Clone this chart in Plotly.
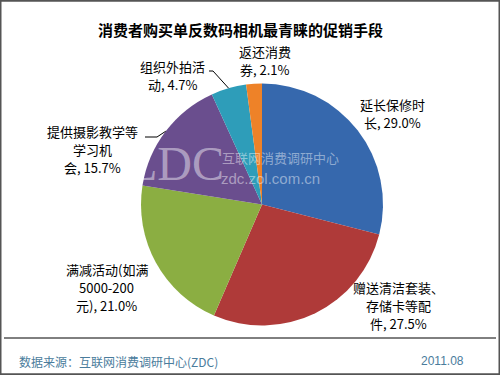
import math
import plotly.graph_objects as go

# ---- data ----
categories = ["延长保修时长", "赠送清洁套装、存储卡等配件", "满减活动(如满5000-200元)",
              "提供摄影教学等学习机会", "组织外拍活动", "返还消费券"]
values = [29.0, 27.5, 21.0, 15.7, 4.7, 2.1]
label_lines = [["延长保修时", "长, 29.0%"],
               ["赠送清洁套装、", "存储卡等配", "件, 27.5%"],
               ["满减活动(如满", "5000-200", "元), 21.0%"],
               ["提供摄影教学等", "学习机", "会, 15.7%"],
               ["组织外拍活", "动, 4.7%"],
               ["返还消费", "券, 2.1%"]]
title_text = "消费者购买单反数码相机最青睐的促销手段"
source_text = "数据来源：互联网消费调研中心(ZDC)"
date_text = "2011.08"

# ---- style ----
W, H = 500, 375
colors = ["#3668AD", "#AF3A39", "#8BAE42", "#6A4E8E", "#2E9DB9", "#EE8228"]
CX, CY, R = 262, 204.5, 121          # pie centre / radius in pixels
label_offsets = [(35, -17), (83, -8), (-49, 25), (-73, 18), (-56, -13), (11, -23)]
LINE_H = 18
leader = {3: [(157, 137), (145, 137)], 4: [(213, 71), (209, 71)]}
CJK = "Noto Sans CJK SC"


def px(x, y):
    return x / W, 1 - y / H


fig = go.Figure()
fig.add_trace(go.Pie(
    labels=categories, values=values, sort=False, direction="clockwise", rotation=0,
    marker=dict(colors=colors, line=dict(width=0)), textinfo="none", hoverinfo="skip",
    showlegend=False,
    domain=dict(x=[(CX - R) / W, (CX + R) / W], y=[1 - (CY + R) / H, 1 - (CY - R) / H]),
))

annotations = []
shapes = []


def add_text(x, y, text, font, xanchor="center"):
    ax, ay = px(x, y)
    annotations.append(dict(x=ax, y=ay, xref="paper", yref="paper", text=text,
                            showarrow=False, xanchor=xanchor, yanchor="middle", font=font))


total = sum(values)
cum = 0
for i, v in enumerate(values):
    mid = (cum + v / 2) / total * 2 * math.pi
    cum += v
    ex, ey = CX + R * math.sin(mid), CY - R * math.cos(mid)
    dx, dy = label_offsets[i]
    lines = label_lines[i]
    n = len(lines)
    for k, line in enumerate(lines):
        add_text(ex + dx, ey + dy + (k - (n - 1) / 2) * LINE_H, line,
                 dict(family=CJK, size=13, color="#000000"))
    if i in leader:
        pts = [(ex, ey)] + leader[i]
        path = "M " + " L ".join(f"{px(a, b)[0]},{px(a, b)[1]}" for a, b in pts)
        shapes.append(dict(type="path", xref="paper", yref="paper", path=path,
                           line=dict(color="#000000", width=1)))

# title
add_text(240, 29, "<b>" + title_text + "</b>", dict(family=CJK, size=15, color="#000000"))
# footer
add_text(17, 361, source_text, dict(family=CJK, size=12, color="#4A7C9C"), "left")
add_text(466, 361, date_text, dict(family="Liberation Sans", size=12, color="#4A7C9C"), "right")
# watermark
wm = "rgba(255,255,255,0.45)"
add_text(176, 163, "ZDC", dict(family="Liberation Serif", size=48, color=wm))
add_text(220, 157, "互联网消费调研中心", dict(family=CJK, size=13, color=wm), "left")
add_text(219, 178, "zdc.zol.com.cn", dict(family="Liberation Sans", size=15, color=wm), "left")

# frame and separator
shapes.append(dict(type="rect", xref="paper", yref="paper", x0=0.001, y0=0.002, x1=0.999, y1=0.998,
                   line=dict(color="#555555", width=2)))
sx0, sy = px(4, 338)
sx1, _ = px(496, 338)
shapes.append(dict(type="line", xref="paper", yref="paper", x0=sx0, x1=sx1, y0=sy, y1=sy,
                   line=dict(color="#000000", width=1)))

fig.update_layout(width=W, height=H, margin=dict(l=0, r=0, t=0, b=0),
                  paper_bgcolor="#FFFFFF", plot_bgcolor="#FFFFFF",
                  annotations=annotations, shapes=shapes)
fig.write_html("out.html", config={"displayModeBar": False},
               post_script="document.body.style.margin='0';")
